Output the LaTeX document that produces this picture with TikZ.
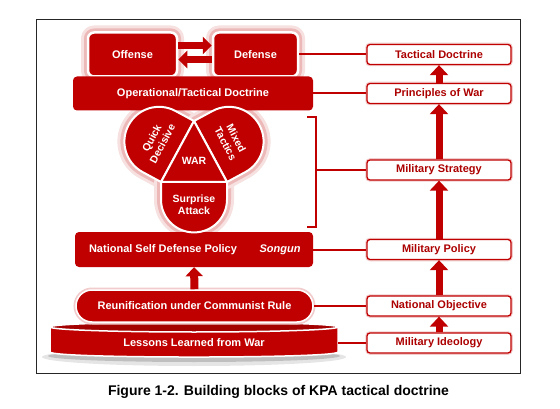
\documentclass[tikz,border=0pt]{standalone}
\usepackage{fontspec}
\setmainfont{Liberation Sans}
\usetikzlibrary{arrows.meta, calc}
\definecolor{kpared}{RGB}{192,0,0}
\definecolor{kpatext}{RGB}{172,0,0}

\begin{document}
\begin{tikzpicture}[
    x=1pt, y=-1pt,
    every node/.style={font=\fontsize{11}{12.5}\selectfont\bfseries},
    redbox/.style={fill=kpared, text=white, rounded corners=4pt},
    glow/.style={preaction={draw=kpared!12, line width=14pt, line join=round},
                 preaction={draw=kpared!28, line width=8pt, line join=round}},
    rimmed/.style={redbox, draw=white, line width=2.5pt, rounded corners=6pt},
    lobe/.style={fill=kpared, draw=white, line width=2pt, line join=round},
    lobetext/.style={text=white, align=center, inner sep=1pt,
        font=\fontsize{10.5}{12}\selectfont\bfseries},
    levelbox/.style={draw=kpared, line width=1.3pt, fill=white, rounded corners=3pt,
        text=kpatext, minimum width=144pt, minimum height=20pt,
        preaction={draw=kpared!20, line width=3.5pt}},
    link/.style={draw=kpared, line width=2pt},
    bigarrow/.style={draw=kpared, line width=7pt, -{Triangle[length=10pt, width=18pt]}}
]
\useasboundingbox (0,0) rectangle (560,409);

% Frame
\draw[black!85, line width=1pt] (36,20) rectangle (520,373);

% WAR triangle and its lobes
\coordinate (A) at (194,121);
\coordinate (B) at (161,182);
\coordinate (C) at (227,182);
\foreach \p/\q/\ext/\rad in {A/B/21/34.6, B/C/17.5/32.9, C/A/21/34.6} {
  \path[glow] (\p) [rounded corners=\rad pt] -- ($(\p)!{\ext pt+\rad pt}!-90:(\q)$)
    -- ($(\q)!{\ext pt+\rad pt}!90:(\p)$) [sharp corners] -- (\q) -- cycle;
}

% Offense / Defense
\node[rimmed, glow, minimum width=89pt, minimum height=44pt] (offense) at (132.5,54.5) {Offense};
\node[rimmed, glow, minimum width=85pt, minimum height=44pt] (defense) at (255.5,54.5) {Defense};
\draw[bigarrow, -{Triangle[length=9pt, width=17pt]}] ([yshift=9pt]offense.east) -- ([yshift=9pt]defense.west);
\draw[bigarrow, -{Triangle[length=9pt, width=17pt]}] ([yshift=-5pt]defense.west) -- ([yshift=-5pt]offense.east);

% Bars
\node[redbox, minimum width=240pt, minimum height=34pt] (optac) at (193,93.5) {Operational/Tactical Doctrine};
\node[redbox, minimum width=238pt, minimum height=35pt] (natpol) at (194,249.5) {};
\node[text=white] (natpoltext) at (163,249.5) {National Self Defense Policy};
\node[text=white, font=\fontsize{11}{12.5}\selectfont\bfseries\itshape] (songun) at (280,249.5) {Songun};

\foreach \p/\q/\ext/\rad in {A/B/21/34.6, B/C/17.5/32.9, C/A/21/34.6} {
  \path[lobe] (\p) [rounded corners=\rad pt] -- ($(\p)!{\ext pt+\rad pt}!-90:(\q)$)
    -- ($(\q)!{\ext pt+\rad pt}!90:(\p)$) [sharp corners] -- (\q) -- cycle;
}
\path[lobe] (A) -- (B) -- (C) -- cycle;
\node[lobetext, rotate=62] (quick) at (157,141) {Quick\\Decisive};
\node[lobetext, rotate=-62] (mixed) at (231,141) {Mixed\\Tactics};
\node[lobetext] (war) at (194,161) {WAR};
\node[lobetext] (surprise) at (194,205) {Surprise\\Attack};

% Lessons platform
\fill[black!10] (194,357) ellipse [x radius=152, y radius=9];
\fill[black!25] (194,356) ellipse [x radius=146, y radius=6];
\path[fill=kpared, draw=white, line width=1.5pt] (50,327) -- (50,352)
  .. controls (50,358.7) and (338,358.7) .. (338,352) -- (338,327) -- cycle;
\path[fill=kpared!85!black, draw=white, line width=1.5pt] (194,327) ellipse [x radius=144, y radius=5];
\node[text=white, minimum width=288pt] (lessons) at (194,343) {Lessons Learned from War};

% Reunification
\node[redbox, rounded corners=16pt, minimum width=237pt, minimum height=32pt,
      draw=white, line width=1.5pt, preaction={draw=kpared!20, line width=5pt}]
      (reunify) at (194.5,306) {Reunification under Communist Rule};
\draw[bigarrow, line width=8pt, -{Triangle[length=9pt, width=17pt]}] (reunify.north) -- (natpol.south);

% Levels
\node[levelbox] (tactical) at (439,54.5) {Tactical Doctrine};
\node[levelbox] (principles) at (439,93.5) {Principles of War};
\node[levelbox] (strategy) at (439,170) {Military Strategy};
\node[levelbox] (policy) at (439,249.5) {Military Policy};
\node[levelbox] (objective) at (439,306) {National Objective};
\node[levelbox] (ideology) at (439,343) {Military Ideology};

\draw[bigarrow] (principles) -- (tactical);
\draw[bigarrow] (strategy) -- (principles);
\draw[bigarrow] (policy) -- (strategy);
\draw[bigarrow] (objective) -- (policy);
\draw[bigarrow] (ideology) -- (objective);

% Links
\coordinate (bt) at (307,117);
\coordinate (bb) at (307,227);
\coordinate (bm) at (316,170);
\draw[link] (bt) -- ++(9,0) |- (bb);
\draw[link] (defense) -- (tactical);
\draw[link] (optac) -- (principles);
\draw[link] (bm) -- (strategy);
\draw[link] (natpol) -- (policy);
\draw[link] (reunify) -- (objective);
\draw[link] (lessons) -- (ideology);

% Caption
\node[font=\fontsize{14}{16}\selectfont\bfseries] (caption) at (278.5,392) {Figure 1-2. Building blocks of KPA tactical doctrine};
\end{tikzpicture}
\end{document}
